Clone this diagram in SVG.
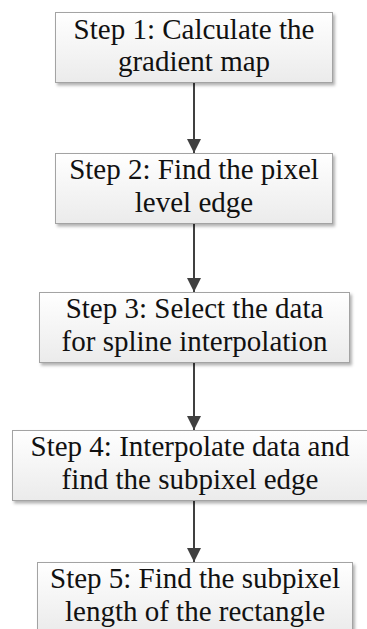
<svg xmlns="http://www.w3.org/2000/svg" width="367" height="629" viewBox="0 0 367 629">
<defs>
<linearGradient id="g" x1="0" y1="0" x2="0" y2="1">
<stop offset="0" stop-color="#ffffff"/>
<stop offset="1" stop-color="#ebebeb"/>
</linearGradient>
<filter id="sh" x="-10%" y="-10%" width="125%" height="130%">
<feDropShadow dx="2" dy="2.5" stdDeviation="1.5" flood-color="#000" flood-opacity="0.3"/>
</filter>
<marker id="ah" markerWidth="14" markerHeight="14" viewBox="0 0 14 14" refX="14" refY="7" orient="auto" markerUnits="userSpaceOnUse">
<path d="M0,0 L14,7 L0,14 Z" fill="#404040"/>
</marker>
<style>
.box{fill:url(#g);stroke:#a3a3a3;stroke-width:1;filter:url(#sh)}
.t{font-family:"Liberation Serif","Times New Roman",serif;font-size:29px;fill:#111;text-anchor:middle}
.c{stroke:#404040;stroke-width:2;fill:none;marker-end:url(#ah)}
</style>
</defs>
<g id="connectors">
<line class="c" x1="194" y1="82.5" x2="194" y2="153"/>
<line class="c" x1="194" y1="223.5" x2="194" y2="292"/>
<line class="c" x1="194" y1="362.5" x2="194" y2="430"/>
<line class="c" x1="194" y1="500.5" x2="194" y2="562"/>
</g>
<g id="step1">
<rect class="box" x="55.5" y="12.5" width="277" height="70"/>
<text class="t" x="194" y="38.5">Step 1: Calculate the</text>
<text class="t" x="194" y="71">gradient map</text>
</g>
<g id="step2">
<rect class="box" x="55.5" y="153.5" width="277" height="70"/>
<text class="t" x="194" y="179">Step 2: Find the pixel</text>
<text class="t" x="194" y="211.5">level edge</text>
</g>
<g id="step3">
<rect class="box" x="39.5" y="292.5" width="310" height="70"/>
<text class="t" x="194.5" y="318">Step 3: Select the data</text>
<text class="t" x="194.5" y="350.5">for spline interpolation</text>
</g>
<g id="step4">
<rect class="box" x="12.5" y="430.5" width="357" height="70"/>
<text class="t" x="190" y="456">Step 4: Interpolate data and</text>
<text class="t" x="190" y="488.5">find the subpixel edge</text>
</g>
<g id="step5">
<rect class="box" x="37.5" y="562.5" width="315" height="70"/>
<text class="t" x="195" y="588">Step 5: Find the subpixel</text>
<text class="t" x="195" y="620.5">length of the rectangle</text>
</g>
</svg>
